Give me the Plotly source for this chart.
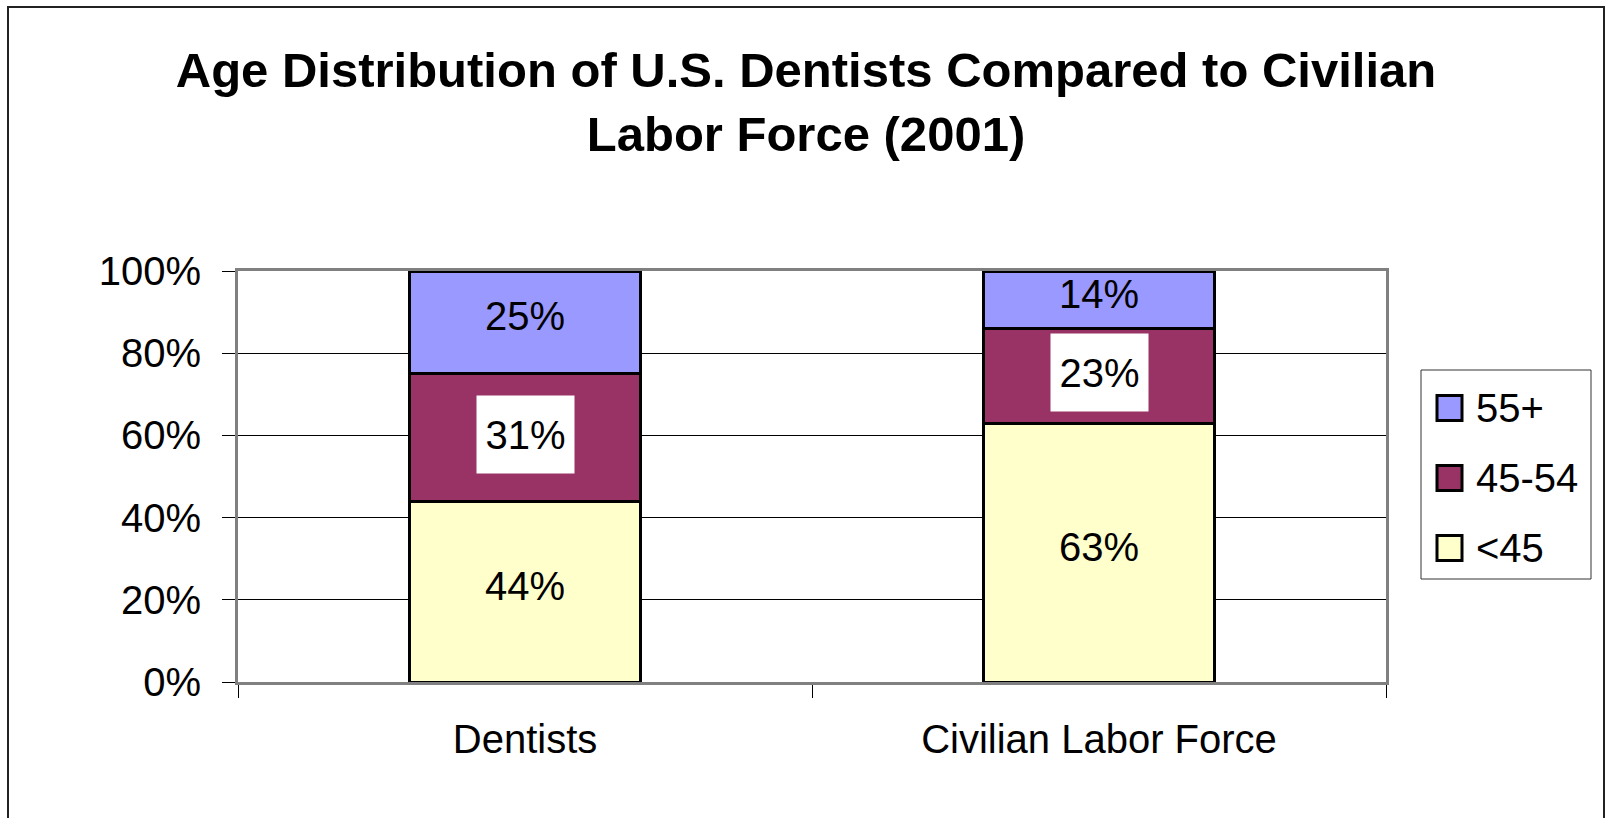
import plotly.graph_objects as go

# Data
categories = ["Dentists", "Civilian Labor Force"]
age_groups = ["<45", "45-54", "55+"]
share_under_45 = [0.44, 0.63]
share_45_54 = [0.31, 0.23]
share_55_plus = [0.25, 0.14]
group_colors = ["#FFFFCC", "#993366", "#9999FF"]
y_tick_values = [0, 0.2, 0.4, 0.6, 0.8, 1.0]
y_tick_labels = ["0%", "20%", "40%", "60%", "80%", "100%"]
title_text = "Age Distribution of U.S. Dentists Compared to Civilian<br>Labor Force (2001)"

FONT = "Liberation Sans, Arial, sans-serif"
W, H = 1607, 818
M_L, M_R, M_T, M_B = 238, 221, 271, 136
plot_w = W - M_L - M_R
plot_h = H - M_T - M_B

series = [share_under_45, share_45_54, share_55_plus]


def px_x(px):
    """Pixel x -> paper coordinate."""
    return (px - M_L) / plot_w


def px_y(py):
    """Pixel y (from top) -> paper coordinate."""
    return (H - M_B - py) / plot_h


fig = go.Figure()
for name, vals, col in zip(age_groups, series, group_colors):
    fig.add_trace(go.Bar(
        x=categories, y=vals, name=name,
        width=0.404,
        marker=dict(color=col, line=dict(color="black", width=3)),
        hoverinfo="skip", showlegend=False,
    ))

# Value labels centred in each segment; the middle band gets a white box
annotations = []
base = [0.0] * len(categories)
for i, vals in enumerate(series):
    for j, v in enumerate(vals):
        ann = dict(
            x=categories[j], y=base[j] + v / 2, xref="x", yref="y",
            text=f"{round(v * 100)}%", showarrow=False,
            font=dict(family=FONT, size=40, color="black"),
            xanchor="center", yanchor="middle", yshift=6,
        )
        if age_groups[i] == "45-54":
            ann.update(bgcolor="white", width=95, height=75, borderpad=1, yshift=3)
        annotations.append(ann)
        base[j] += v

shapes = []

# Outer chart frame
shapes.append(dict(
    type="rect", xref="paper", yref="paper",
    x0=px_x(8), x1=px_x(1604), y0=px_y(840), y1=px_y(7),
    line=dict(color="#222222", width=2), fillcolor="rgba(0,0,0,0)",
    layer="above",
))

# Legend box with square swatches (top item = last series)
LEG_L, LEG_R, LEG_T, LEG_B = 1421, 1591, 370, 579
shapes.append(dict(
    type="rect", xref="paper", yref="paper",
    x0=px_x(LEG_L), x1=px_x(LEG_R), y0=px_y(LEG_B), y1=px_y(LEG_T),
    line=dict(color="#333333", width=1), fillcolor="white", layer="above",
))
for k, (name, col) in enumerate(zip(age_groups[::-1], group_colors[::-1])):
    cy = 408 + 70 * k
    shapes.append(dict(
        type="rect", xref="paper", yref="paper",
        x0=px_x(1437), x1=px_x(1462), y0=px_y(cy + 12.5), y1=px_y(cy - 12.5),
        line=dict(color="black", width=3), fillcolor=col, layer="above",
    ))
    annotations.append(dict(
        x=px_x(1474), y=px_y(cy), xref="paper", yref="paper",
        text=name, showarrow=False, xanchor="left", yanchor="middle",
        font=dict(family=FONT, size=40, color="black"),
    ))

fig.update_layout(
    width=W, height=H,
    margin=dict(l=M_L, r=M_R, t=M_T, b=M_B, pad=0),
    paper_bgcolor="white", plot_bgcolor="white",
    barmode="stack",
    showlegend=False,
    font=dict(family=FONT, size=40, color="black"),
    title=dict(
        text=title_text, xref="container", yref="container",
        x=806 / W, xanchor="center", y=1 - 87 / H, yanchor="middle",
        font=dict(family=FONT, size=49, color="black", weight="bold"),
    ),
    xaxis=dict(
        type="category", showgrid=False, zeroline=False,
        tickson="boundaries", ticks="outside", ticklen=13,
        tickcolor="black", tickwidth=1,
        ticklabelstandoff=20,
        showline=True, linecolor="#808080", linewidth=3, mirror=True,
        tickfont=dict(family=FONT, size=40, color="black"),
        layer="below traces",
    ),
    yaxis=dict(
        range=[0, 1], tickvals=y_tick_values, ticktext=y_tick_labels,
        showgrid=True, gridcolor="black", gridwidth=1, zeroline=False,
        ticks="outside", ticklen=13, tickcolor="black", tickwidth=1,
        ticklabelstandoff=13,
        showline=True, linecolor="#808080", linewidth=3, mirror=True,
        tickfont=dict(family=FONT, size=40, color="black"),
        layer="below traces",
    ),
    annotations=annotations,
    shapes=shapes,
)

fig.write_html("out.html")
